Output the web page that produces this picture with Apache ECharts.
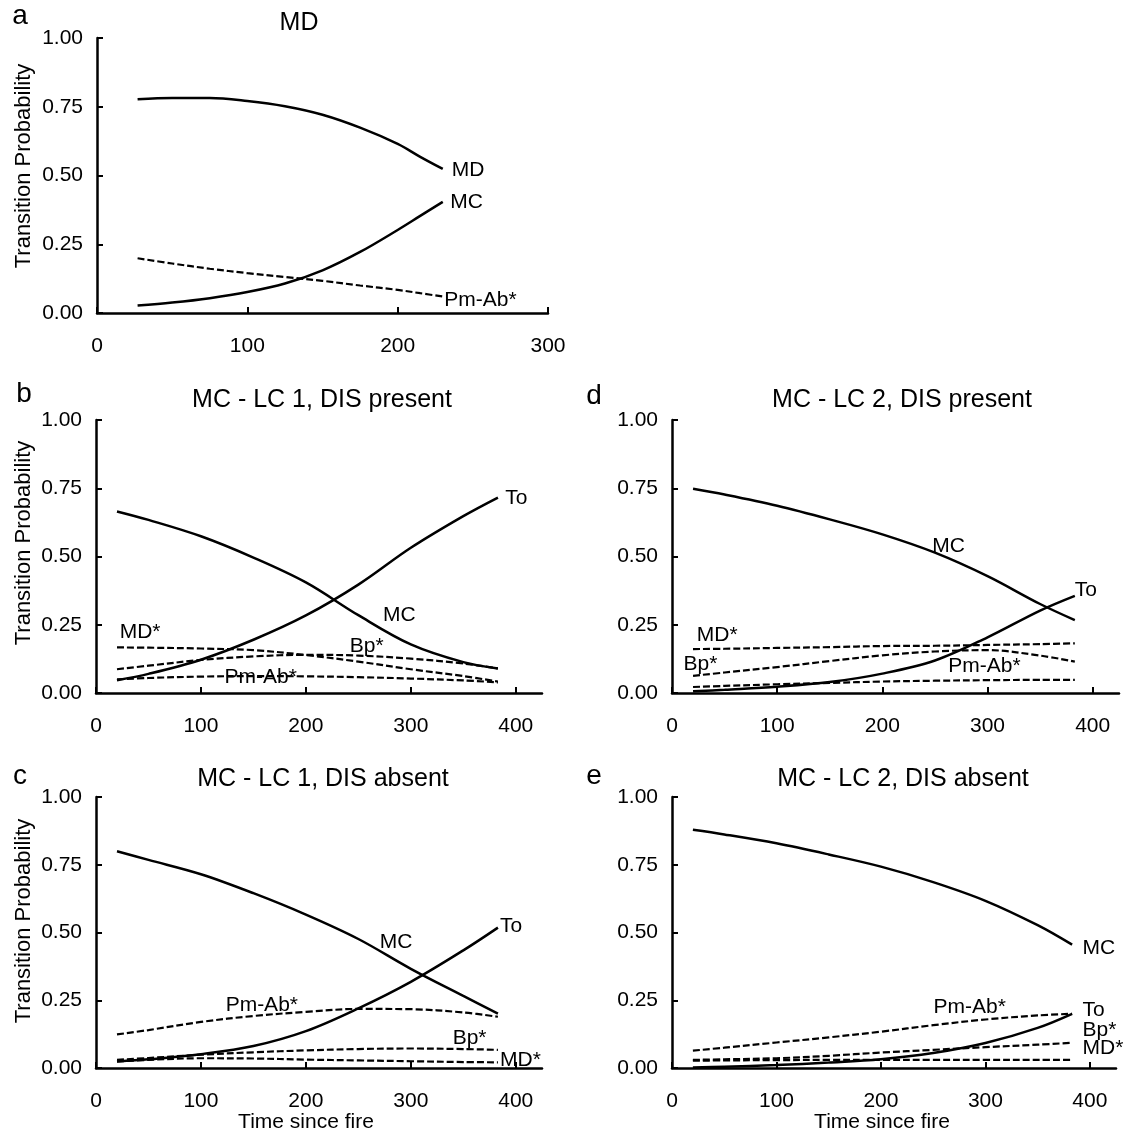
<!DOCTYPE html>
<html><head><meta charset="utf-8">
<script src="https://cdn.jsdelivr.net/npm/echarts@6/dist/echarts.min.js"></script>
<style>html,body{margin:0;padding:0;background:#fff}#c{width:1129px;height:1140px}</style>
</head><body><div id="c"></div>
<script>
// ---------- DATA ----------
// Panel a: MD
const xA = [27, 50, 75, 100, 125, 150, 175, 200, 215, 230];
const aMD   = [0.777,0.782,0.782,0.771,0.752,0.721,0.674,0.615,0.568,0.524];
const aMC   = [0.027,0.038,0.054,0.076,0.107,0.155,0.222,0.302,0.353,0.404];
const aPmAb = [0.199,0.180,0.161,0.145,0.131,0.117,0.100,0.084,0.072,0.060];

// Panels b-e share time points
const xT = [20, 50, 100, 150, 200, 250, 300, 350, 383];
// b: MC - LC 1, DIS present
const bMC   = [0.665,0.634,0.574,0.496,0.405,0.285,0.178,0.113,0.090];
const bTo   = [0.047,0.070,0.122,0.195,0.284,0.397,0.532,0.648,0.716];
const bMD   = [0.167,0.166,0.163,0.157,0.139,0.115,0.087,0.062,0.042];
const bBp   = [0.087,0.100,0.121,0.134,0.140,0.137,0.126,0.108,0.090];
const bPmAb = [0.050,0.055,0.060,0.062,0.061,0.058,0.053,0.046,0.039];
// c: MC - LC 1, DIS absent
const cMC   = [0.800,0.768,0.715,0.645,0.566,0.476,0.366,0.266,0.201];
const cTo   = [0.024,0.032,0.051,0.081,0.136,0.220,0.318,0.434,0.518];
const cPmAb = [0.124,0.140,0.170,0.192,0.207,0.218,0.217,0.205,0.189];
const cBp   = [0.030,0.037,0.049,0.058,0.065,0.070,0.072,0.070,0.067];
const cMD   = [0.024,0.030,0.036,0.035,0.031,0.028,0.025,0.022,0.021];
// d: MC - LC 2, DIS present
const dMC   = [0.748,0.727,0.686,0.636,0.581,0.514,0.428,0.326,0.267];
const dTo   = [0.006,0.012,0.023,0.040,0.071,0.119,0.204,0.302,0.356];
const dMD   = [0.161,0.162,0.165,0.168,0.172,0.173,0.176,0.179,0.182];
const dBp   = [0.063,0.075,0.095,0.117,0.138,0.152,0.157,0.137,0.115];
const dPmAb = [0.022,0.026,0.032,0.037,0.042,0.045,0.047,0.048,0.048];
// e: MC - LC 2, DIS absent
const eMC   = [0.879,0.862,0.829,0.788,0.743,0.686,0.617,0.527,0.455];
const ePmAb = [0.064,0.075,0.094,0.113,0.134,0.158,0.179,0.194,0.200];
const eTo   = [0.002,0.005,0.011,0.020,0.032,0.055,0.092,0.148,0.200];
const eBp   = [0.030,0.032,0.036,0.045,0.057,0.067,0.077,0.086,0.093];
const eMD   = [0.027,0.028,0.029,0.030,0.030,0.030,0.030,0.030,0.030];

// tick labels
const yTicks = [0, 0.25, 0.5, 0.75, 1];
const xTicksA = [0, 100, 200, 300];
const xTicksB = [0, 100, 200, 300, 400];

// curve labels (text, x, y, align) in data units
const aLabels = [['MD',236,0.518,'left'],['MC',235,0.404,'left'],['Pm-Ab*',231,0.048,'left']];
const bLabels = [['To',390,0.715,'left'],['MC',289,0.285,'center'],['MD*',42,0.224,'center'],['Bp*',258,0.172,'center'],['Pm-Ab*',157,0.058,'center']];
const cLabels = [['To',385,0.524,'left'],['MC',286,0.463,'center'],['Pm-Ab*',158,0.232,'center'],['Bp*',356,0.11,'center'],['MD*',385,0.03,'left']];
const dLabels = [['To',383,0.378,'left'],['MC',263,0.537,'center'],['MD*',43,0.213,'center'],['Bp*',27,0.104,'center'],['Pm-Ab*',297,0.098,'center']];
const eLabels = [['MC',393,0.442,'left'],['Pm-Ab*',285,0.224,'center'],['To',393,0.212,'left'],['Bp*',393,0.139,'left'],['MD*',393,0.073,'left']];

// ---------- CHART ----------
const FONT = 'Liberation Sans, Arial, sans-serif';
const panels = [
  {grid:{left:97,top:38,width:451,height:275}, xmax:300, xticks:xTicksA,
   x:xA, lines:[[aMD,false],[aMC,false],[aPmAb,true]], labels:aLabels},
  {grid:{left:96,top:420,width:446,height:273}, xmax:425, xticks:xTicksB,
   x:xT, lines:[[bMC,false],[bTo,false],[bMD,true],[bBp,true],[bPmAb,true]], labels:bLabels},
  {grid:{left:96,top:797,width:446,height:271}, xmax:425, xticks:xTicksB,
   x:xT, lines:[[cMC,false],[cTo,false],[cPmAb,true],[cBp,true],[cMD,true]], labels:cLabels},
  {grid:{left:672,top:420,width:447,height:273}, xmax:425, xticks:xTicksB,
   x:xT, lines:[[dMC,false],[dTo,false],[dMD,true],[dBp,true],[dPmAb,true]], labels:dLabels},
  {grid:{left:672,top:797,width:444,height:271}, xmax:425, xticks:xTicksB,
   x:xT, lines:[[eMC,false],[eTo,false],[ePmAb,true],[eBp,true],[eMD,true]], labels:eLabels}
];

const grids=[], xAxes=[], yAxes=[], series=[];
panels.forEach((p,i)=>{
  grids.push(Object.assign({containLabel:false}, p.grid));
  xAxes.push({
    type:'value', gridIndex:i, min:0, max:p.xmax, interval:100,
    axisLine:{show:true, onZero:false, lineStyle:{color:'#000', width:2.5}},
    axisTick:{show:true, inside:true, length:6, lineStyle:{color:'#000', width:2}, customValues:p.xticks},
    axisLabel:{fontFamily:FONT, fontSize:21, color:'#000', margin:23, customValues:p.xticks},
    splitLine:{show:false}
  });
  yAxes.push({
    type:'value', gridIndex:i, min:0, max:1, interval:0.25,
    axisLine:{show:true, onZero:false, lineStyle:{color:'#000', width:2.5}},
    axisTick:{show:true, inside:true, length:6, lineStyle:{color:'#000', width:2}, customValues:yTicks},
    axisLabel:{fontFamily:FONT, fontSize:21, color:'#000', margin:14, customValues:yTicks,
      formatter:v=>v.toFixed(2)},
    splitLine:{show:false}
  });
  p.lines.forEach(([vals,dashed])=>{
    series.push({
      type:'line', xAxisIndex:i, yAxisIndex:i, smooth:0.35, showSymbol:false, symbol:'none',
      data: p.x.map((x,k)=>[x, vals[k]]),
      lineStyle:{color:'#000', width: dashed?2.2:2.5, type: dashed?[7,3]:'solid'},
      silent:true, z:3
    });
  });
  series.push({
    type:'scatter', xAxisIndex:i, yAxisIndex:i, symbolSize:2, itemStyle:{color:'rgba(0,0,0,0)'}, silent:true,
    data: p.labels.map(l=>({name:l[0], value:[l[1],l[2]], label:{align:l[3]}})),
    label:{show:true, position:'inside', formatter:'{b}', fontFamily:FONT, fontSize:21, color:'#000',
      opacity:1, textBorderWidth:0, verticalAlign:'middle'},
    labelLayout:{hideOverlap:false},
    z:5
  });
});

const titles = [['MD',299,23],['MC - LC 1, DIS present',322,400],['MC - LC 1, DIS absent',323,779],
                ['MC - LC 2, DIS present',902,400],['MC - LC 2, DIS absent',903,779]];
const letters = [['a',20,16],['b',24,394],['c',20,776],['d',594,396],['e',594,776]];
const yNames = [['Transition Probability',24,166],['Transition Probability',24,543],['Transition Probability',24,921]];
const xNames = [['Time since fire',306,1122],['Time since fire',882,1122]];
const graphics = [];
titles.forEach(t=>graphics.push({type:'text', x:t[1], y:t[2], style:{text:t[0], font:'25px '+FONT, fill:'#000', align:'center', verticalAlign:'middle'}}));
letters.forEach(t=>graphics.push({type:'text', x:t[1], y:t[2], style:{text:t[0], font:'28px '+FONT, fill:'#000', align:'center', verticalAlign:'middle'}}));
yNames.forEach(t=>graphics.push({type:'text', x:t[1], y:t[2], rotation:Math.PI/2, style:{text:t[0], font:'22px '+FONT, fill:'#000', align:'center', verticalAlign:'middle'}}));
xNames.forEach(t=>graphics.push({type:'text', x:t[1], y:t[2], style:{text:t[0], font:'21px '+FONT, fill:'#000', align:'center', verticalAlign:'middle'}}));

const chart = echarts.init(document.getElementById('c'), null, {renderer:'canvas'});
chart.setOption({
  backgroundColor:'#fff', animation:false,
  grid:grids, xAxis:xAxes, yAxis:yAxes, series:series, graphic:graphics
});
</script></body></html>
